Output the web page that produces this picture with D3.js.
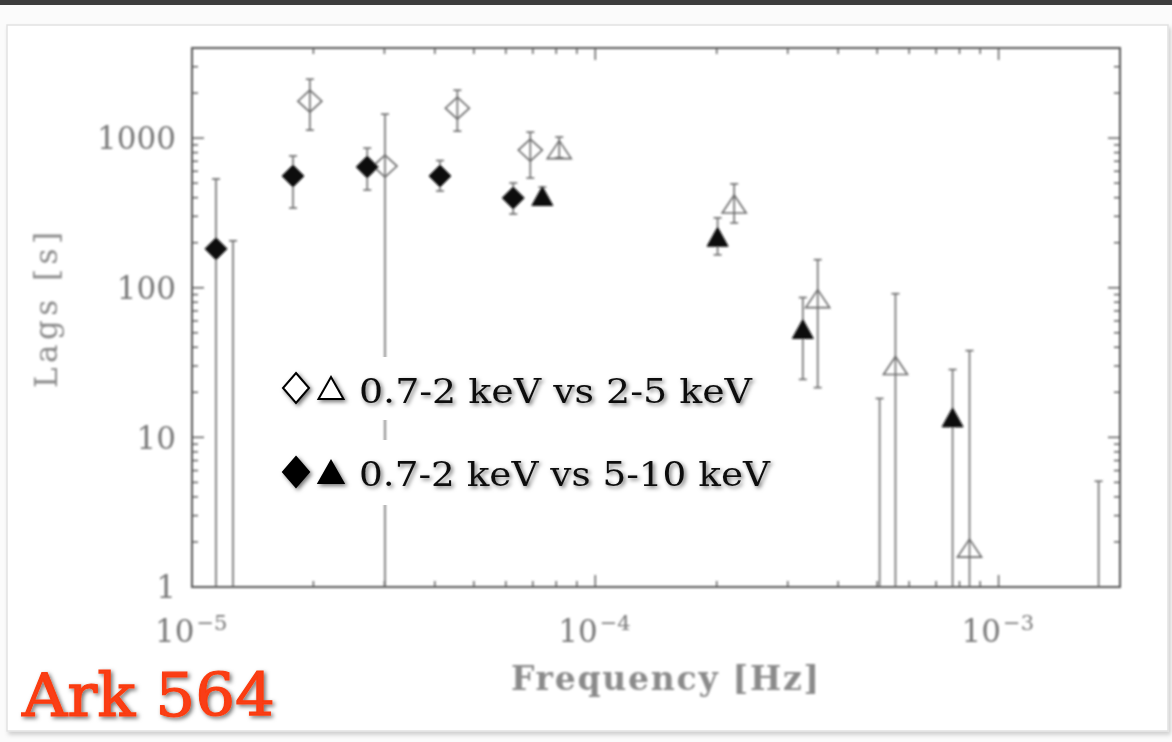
<!DOCTYPE html>
<html>
<head>
<meta charset="utf-8">
<script src="https://cdn.jsdelivr.net/npm/d3@7"></script>
<style>
  html, body { margin: 0; padding: 0; background: #fafafa; }
  svg { display: block; }
</style>
</head>
<body>
<svg id="chart" width="1172" height="742"></svg>
<script>
// Ark 564 time lags vs Fourier frequency.
// "soft" = 0.7-2 keV vs 2-5 keV (open symbols), "hard" = 0.7-2 keV vs 5-10 keV (filled symbols).
// Lower error values under 1 s run off the bottom of the log axis.

const softDiamondFreq = [1.96e-5, 3.01e-5, 4.55e-5, 6.9e-5];
const softDiamondLag  = [1765, 650, 1585, 832];
const softDiamondLo   = [1131, 0.5, 1113, 541];
const softDiamondHi   = [2474, 1445, 2089, 1096];

const softTriFreq = [8.14e-5, 2.21e-4, 3.56e-4, 5.55e-4, 8.47e-4];
const softTriLag  = [838, 363, 84.5, 30.2, 1.82];
const softTriLo   = [740, 271, 21.5, 0.5, 0.5];
const softTriHi   = [1016, 494, 154, 91.2, 38];

const hardDiamondFreq = [1.147e-5, 1.78e-5, 2.72e-5, 4.12e-5, 6.26e-5];
const hardDiamondLag  = [182, 558, 641, 558, 398];
const hardDiamondLo   = [0.5, 341, 450, 443, 311];
const hardDiamondHi   = [533, 760, 857, 708, 501];

const hardTriFreq = [7.39e-5, 2.01e-4, 3.27e-4, 7.69e-4];
const hardTriLag  = [410, 219, 53, 13.6];
const hardTriLo   = [360, 166, 24.4, 0.5];
const hardTriHi   = [470, 293, 86, 28.4];

// Bins whose lag falls below 1 s: only the upper end of the error bar shows.
const belowFreq = [1.264e-5, 5.07e-4, 1.77e-3];
const belowHi   = [206, 18.2, 5.09];

const yTickValues = [1, 10, 100, 1000];
const yTickLabels = ["1", "10", "100", "1000"];
const xTickValues = [1e-5, 1e-4, 1e-3];
const xTickExponents = ["\u22125", "\u22124", "\u22123"];

const legendLabels = ["0.7-2 keV vs 2-5 keV", "0.7-2 keV vs 5-10 keV"];
const sourceName = "Ark 564";

const svg = d3.select("#chart");
const W = 1172, H = 742;
const plot = { left: 192, right: 1120, top: 48, bottom: 587 };

const defs = svg.append("defs");
const soft = defs.append("filter").attr("id", "soft")
  .attr("x", "-5%").attr("y", "-5%").attr("width", "110%").attr("height", "110%");
soft.append("feGaussianBlur").attr("stdDeviation", 0.8);

const shadow = defs.append("filter").attr("id", "shadow")
  .attr("x", "-10%").attr("y", "-30%").attr("width", "120%").attr("height", "160%");
shadow.append("feDropShadow").attr("dx", 2).attr("dy", 2)
  .attr("stdDeviation", 2).attr("flood-color", "#000").attr("flood-opacity", 0.55);

const panelShadow = defs.append("filter").attr("id", "panelShadow")
  .attr("x", "-2%").attr("y", "-2%").attr("width", "104%").attr("height", "104%");
panelShadow.append("feDropShadow").attr("dx", 2).attr("dy", 3)
  .attr("stdDeviation", 2).attr("flood-color", "#000").attr("flood-opacity", 0.18);

// page background and panel
svg.append("rect").attr("width", W).attr("height", H).attr("fill", "#fbfbfb");
svg.append("rect").attr("x", 0).attr("y", 0).attr("width", W).attr("height", 5).attr("fill", "#3d3d3d");
svg.append("rect").attr("x", 7).attr("y", 25).attr("width", 1161).attr("height", 706)
  .attr("fill", "#ffffff").attr("stroke", "#e2e2e2").attr("stroke-width", 1.5)
  .attr("filter", "url(#panelShadow)");

const x = d3.scaleLog().domain([1e-5, 2e-3]).range([plot.left, plot.right]);
const y = d3.scaleLog().domain([1, 4000]).range([plot.bottom, plot.top]).clamp(true);

const g = svg.append("g").attr("filter", "url(#soft)");
const axisColor = "#555";
const textColor = "#777";
const serif = "'DejaVu Serif', 'Liberation Serif', serif";

// frame
g.append("rect")
  .attr("x", plot.left).attr("y", plot.top)
  .attr("width", plot.right - plot.left).attr("height", plot.bottom - plot.top)
  .attr("fill", "none").attr("stroke", axisColor).attr("stroke-width", 2);

// minor + major ticks on all four sides, pointing inward
function minorValues(scale) {
  const [a, b] = scale.domain();
  const out = [];
  for (let e = Math.floor(Math.log10(a)); e <= Math.ceil(Math.log10(b)); e++) {
    for (let m = 1; m < 10; m++) {
      const v = m * Math.pow(10, e);
      if (v >= a * 0.999 && v <= b * 1.001) out.push({ v, major: m === 1 });
    }
  }
  return out;
}

const xt = minorValues(x);
const yt = minorValues(y);
const ticks = g.append("g").attr("stroke", axisColor).attr("stroke-width", 1.4);
ticks.selectAll(".xb").data(xt).join("line")
  .attr("x1", d => x(d.v)).attr("x2", d => x(d.v))
  .attr("y1", plot.bottom).attr("y2", d => plot.bottom - (d.major ? 12 : 6));
ticks.selectAll(".xt").data(xt).join("line")
  .attr("x1", d => x(d.v)).attr("x2", d => x(d.v))
  .attr("y1", plot.top).attr("y2", d => plot.top + (d.major ? 12 : 6));
ticks.selectAll(".yl").data(yt).join("line")
  .attr("y1", d => y(d.v)).attr("y2", d => y(d.v))
  .attr("x1", plot.left).attr("x2", d => plot.left + (d.major ? 12 : 6));
ticks.selectAll(".yr").data(yt).join("line")
  .attr("y1", d => y(d.v)).attr("y2", d => y(d.v))
  .attr("x1", plot.right).attr("x2", d => plot.right - (d.major ? 12 : 6));

// y tick labels
g.append("g").selectAll("text").data(yTickValues).join("text")
  .attr("x", 176).attr("y", d => y(d)).attr("dy", "0.36em")
  .attr("text-anchor", "end")
  .attr("font-family", serif).attr("font-size", 31).attr("fill", textColor)
  .text((d, i) => yTickLabels[i]);

// x tick labels: 10 with superscript exponent
const xl = g.append("g").selectAll("text").data(xTickValues).join("text")
  .attr("x", d => x(d) - 37).attr("y", 642)
  .attr("font-family", serif).attr("font-size", 31).attr("fill", textColor);
xl.append("tspan").text("10");
xl.append("tspan").attr("dy", -12).attr("dx", 2).attr("font-size", 21)
  .text((d, i) => xTickExponents[i]);

// axis titles
g.append("text")
  .attr("x", 665).attr("y", 690).attr("text-anchor", "middle")
  .attr("font-family", serif).attr("font-size", 33).attr("font-weight", "bold")
  .attr("fill", "#8a8a8a").attr("textLength", 308)
  .text("Frequency [Hz]");
g.append("text")
  .attr("transform", "translate(57,310) rotate(-90)").attr("text-anchor", "middle")
  .attr("font-family", serif).attr("font-size", 31)
  .attr("fill", "#8a8a8a").attr("textLength", 156)
  .text("Lags [s]");

// marker paths
const diamond = (w, h) => `M0,${-h}L${w},0L0,${h}L${-w},0Z`;
const triangle = (w, h) => `M0,${-h}L${w},${h}L${-w},${h}Z`;

function series(freq, lag, lo, hi) {
  return freq.map((f, i) => ({ f, lag: lag[i], lo: lo[i], hi: hi[i] }));
}

const markerSets = [
  { data: series(softDiamondFreq, softDiamondLag, softDiamondLo, softDiamondHi), path: diamond(12, 11), filled: false },
  { data: series(softTriFreq, softTriLag, softTriLo, softTriHi), path: triangle(12, 9), filled: false },
  { data: series(hardDiamondFreq, hardDiamondLag, hardDiamondLo, hardDiamondHi), path: diamond(11, 11), filled: true },
  { data: series(hardTriFreq, hardTriLag, hardTriLo, hardTriHi), path: triangle(10.5, 9.5), filled: true }
];

const bars = g.append("g").attr("stroke", "#6a6a6a").attr("stroke-width", 1.6);
function drawBar(f, lo, hi) {
  const cx = x(f);
  bars.append("line").attr("x1", cx).attr("x2", cx).attr("y1", y(lo)).attr("y2", y(hi));
  bars.append("line").attr("x1", cx - 4).attr("x2", cx + 4).attr("y1", y(hi)).attr("y2", y(hi));
  if (lo >= 1) bars.append("line").attr("x1", cx - 4).attr("x2", cx + 4).attr("y1", y(lo)).attr("y2", y(lo));
}
markerSets.forEach(s => s.data.forEach(d => drawBar(d.f, d.lo, d.hi)));
belowFreq.forEach((f, i) => drawBar(f, 0.5, belowHi[i]));

const marks = g.append("g");
markerSets.forEach(s => {
  marks.selectAll(null).data(s.data).join("path")
    .attr("transform", d => `translate(${x(d.f)},${y(d.lag)})`)
    .attr("d", s.path)
    .attr("fill", s.filled ? "#111" : "none")
    .attr("stroke", s.filled ? "#111" : "#6a6a6a")
    .attr("stroke-width", s.filled ? 1 : 1.6);
});

// legend: white strips over the plot, then symbols and labels
const legend = svg.append("g");
const rows = [
  { top: 357, h: 63, cy: 388, base: 403, filled: false, label: legendLabels[0], len: 393 },
  { top: 440, h: 65, cy: 472, base: 486, filled: true, label: legendLabels[1], len: 411 }
];
rows.forEach(r => {
  legend.append("rect").attr("x", 272).attr("y", r.top).attr("width", 515).attr("height", r.h)
    .attr("fill", "#fff");
  const item = legend.append("g").attr("filter", "url(#shadow)");
  item.append("path").attr("transform", `translate(296,${r.cy})`)
    .attr("d", diamond(13, 15))
    .attr("fill", r.filled ? "#000" : "#fff").attr("stroke", "#000").attr("stroke-width", 2);
  item.append("path").attr("transform", `translate(331,${r.cy})`)
    .attr("d", triangle(12.5, 11))
    .attr("fill", r.filled ? "#000" : "#fff").attr("stroke", "#000").attr("stroke-width", 2);
  item.append("text").attr("x", 359).attr("y", r.base)
    .attr("font-family", serif).attr("font-size", 34).attr("fill", "#111")
    .attr("textLength", r.len).attr("lengthAdjust", "spacingAndGlyphs")
    .text(r.label);
});

// source name
svg.append("text")
  .attr("x", 22).attr("y", 716)
  .attr("font-family", serif).attr("font-size", 60)
  .attr("fill", "#fa3c12").attr("stroke", "#fa3c12").attr("stroke-width", 1.2)
  .attr("filter", "url(#shadow)")
  .attr("textLength", 253).attr("lengthAdjust", "spacingAndGlyphs")
  .text(sourceName);
</script>
</body>
</html>
